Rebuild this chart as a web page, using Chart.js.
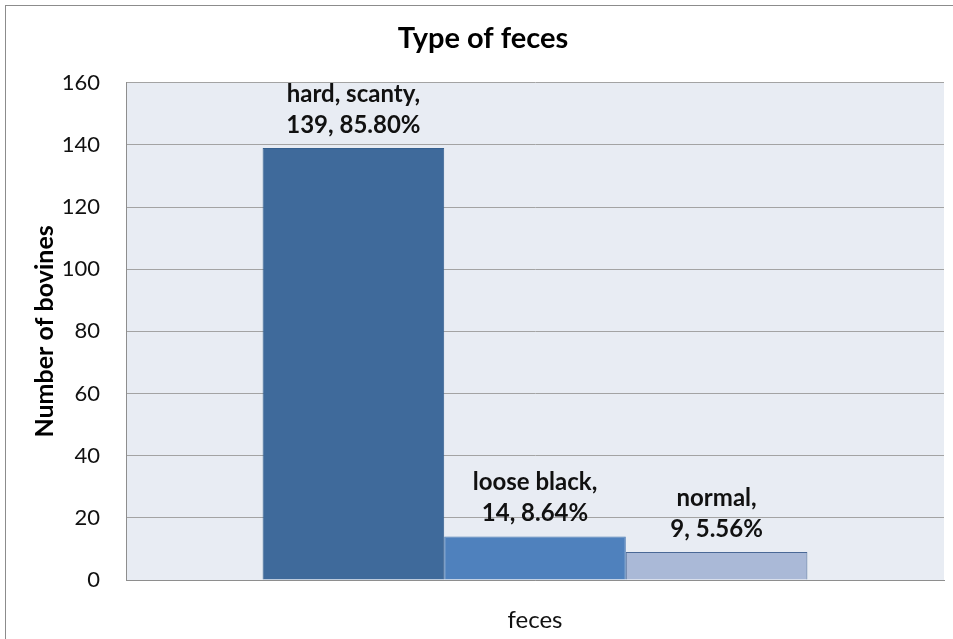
<!DOCTYPE html>
<html>
<head>
<meta charset="utf-8">
<title>Type of feces</title>
<script src="https://cdn.jsdelivr.net/npm/chart.js@4.4.1/dist/chart.umd.min.js"></script>
<style>
    html, body { margin: 0; padding: 0; background: #fff; overflow: hidden; }
    #quadro {
        position: absolute;
        left: 5px;
        top: 5px;
        width: 956px;
        height: 650px;
        border: 1px solid #8c8c8c;
        box-sizing: border-box;
    }
</style>
</head>
<body>
<div id="quadro">
    <canvas id="graficoFezes"></canvas>
</div>
<script>
// Dados
const categorias = ['feces'];
const tipos = ['hard, scanty', 'loose black', 'normal'];
const valores = [139, 14, 9];
const percentuais = ['85.80%', '8.64%', '5.56%'];
const cores = ['#3f6a9b', '#4f81bd', '#aab9d7'];
const bordas = ['#35608f', '#4677b0', '#4a6896'];
const ticksY = [0, 20, 40, 60, 80, 100, 120, 140, 160];

const fonte = 'Lato, "Open Sans", sans-serif';

// Fundo da área do gráfico
const fundoArea = {
    id: 'fundoArea',
    beforeDraw(chart) {
        const { ctx, chartArea } = chart;
        ctx.save();
        ctx.fillStyle = '#e8ecf3';
        ctx.fillRect(chartArea.left, chartArea.top, chartArea.right - chartArea.left, chartArea.bottom - chartArea.top);
        ctx.restore();
    }
};

// Rótulos acima das barras
const rotulos = {
    id: 'rotulos',
    afterDatasetsDraw(chart) {
        const ctx = chart.ctx;
        ctx.save();
        ctx.fillStyle = '#111';
        ctx.font = 'bold 24px ' + fonte;
        ctx.textAlign = 'center';
        ctx.textBaseline = 'middle';
        chart.data.datasets.forEach((ds, i) => {
            const barra = chart.getDatasetMeta(i).data[0];
            ctx.fillText(ds.label + ',', barra.x, barra.y - 54);
            ctx.fillText(valores[i] + ', ' + percentuais[i], barra.x, barra.y - 23);
        });
        ctx.restore();
    }
};

const ctx = document.getElementById('graficoFezes').getContext('2d');

new Chart(ctx, {
    type: 'bar',
    data: {
        labels: categorias,
        datasets: tipos.map((t, i) => ({
            label: t,
            data: [valores[i]],
            backgroundColor: cores[i],
            borderColor: bordas[i],
            borderWidth: 1,
            categoryPercentage: 0.666,
            barPercentage: 1.0
        }))
    },
    options: {
        responsive: true,
        maintainAspectRatio: false,
        animation: false,
        layout: {
            padding: { left: 16, right: 16, top: 0, bottom: 0 }
        },
        plugins: {
            legend: { display: false },
            tooltip: { enabled: false },
            title: {
                display: true,
                text: 'Type of feces',
                color: '#000',
                font: { family: fonte, size: 29, weight: 'bold' },
                padding: { top: 15, bottom: 27 }
            }
        },
        scales: {
            x: {
                grid: { display: false },
                border: { display: true, color: '#8e8e8e', width: 1 },
                ticks: {
                    color: '#111',
                    padding: 18,
                    font: { family: fonte, size: 24 }
                },
                afterFit(scale) { scale.height = 74; }
            },
            y: {
                min: 0,
                max: 160,
                afterBuildTicks(scale) {
                    scale.ticks = ticksY.map(v => ({ value: v }));
                },
                grid: {
                    color: '#a3a3a3',
                    lineWidth: 1,
                    drawTicks: false
                },
                border: { display: true, color: '#8e8e8e', width: 1 },
                ticks: {
                    color: '#111',
                    padding: 26,
                    font: { family: fonte, size: 22 }
                },
                title: {
                    display: true,
                    text: 'Number of bovines',
                    color: '#000',
                    font: { family: fonte, size: 25, weight: 'bold' },
                    padding: { top: 8, bottom: 0 }
                },
                afterFit(scale) { scale.width = 104; }
            }
        }
    },
    plugins: [fundoArea, rotulos]
});
</script>
</body>
</html>
